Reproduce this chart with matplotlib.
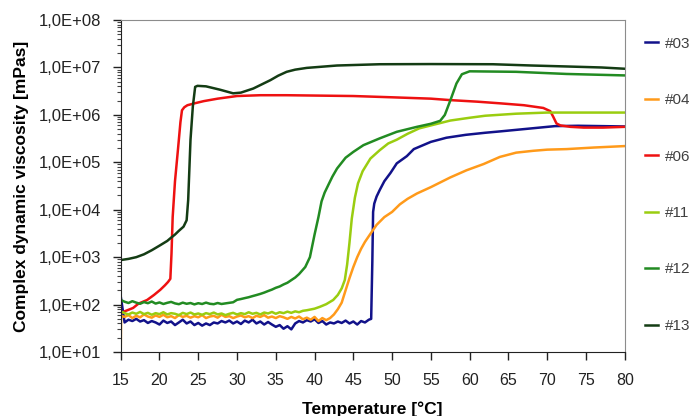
import numpy as np
import matplotlib
matplotlib.use("Agg")
import matplotlib.pyplot as plt
from matplotlib.ticker import LogLocator, FuncFormatter, FixedLocator

plt.rcParams['font.family'] = ['Liberation Sans', 'DejaVu Sans']

# sample #03 (navy)
t03 = [15.0, 15.5, 16.0, 16.5, 17.0, 17.5, 18.0, 18.5, 19.0, 19.5,
       20.0, 20.5, 21.0, 21.5, 22.0, 22.5, 23.0, 23.5, 24.0, 24.5,
       25.0, 25.5, 26.0, 26.5, 27.0, 27.5, 28.0, 28.5, 29.0, 29.5,
       30.0, 30.5, 31.0, 31.5, 32.0, 32.5, 33.0, 33.5, 34.0, 34.5,
       35.0, 35.5, 36.0, 36.5, 37.0, 37.5, 38.0, 38.5, 39.0, 39.5,
       40.0, 40.5, 41.0, 41.5, 42.0, 42.5, 43.0, 43.5, 44.0, 44.5,
       45.0, 45.5, 46.0, 46.5, 47.0,
       47.3, 47.45, 47.55, 47.7, 48.0, 48.4, 49.0, 49.8, 50.6, 51.9, 52.8,
       55.0, 57.0, 59.5, 62.0, 64.0, 68.0, 71.0, 74.0, 77.0, 80.0]
v03 = [150, 42, 48, 45, 50, 44, 47, 41, 45, 42,
       38, 46, 41, 44, 37, 42, 48, 40, 44, 37,
       41, 36, 40, 37, 42, 40, 45, 42, 46, 40,
       44, 39, 46, 42, 48, 40, 44, 38, 43, 38,
       34, 37, 31, 35, 30, 40, 45, 42, 47, 44,
       49, 41, 45, 38, 42, 40, 44, 41, 46, 40,
       44, 38, 45, 42, 48,
       50, 800, 9.0e3, 1.35e4, 1.9e4, 2.6e4, 4.0e4, 6.0e4, 9.5e4, 1.35e5, 1.9e5,
       2.7e5, 3.3e5, 3.8e5, 4.2e5, 4.5e5, 5.2e5, 5.8e5, 5.9e5, 5.8e5, 5.7e5]

# sample #04 (orange)
t04 = [15.0, 15.05, 15.5, 16.0, 16.5, 17.0, 17.5, 18.0, 18.5, 19.0, 19.5,
       20.0, 20.5, 21.0, 21.5, 22.0, 22.5, 23.0, 23.5, 24.0, 24.5,
       25.0, 25.5, 26.0, 26.5, 27.0, 27.5, 28.0, 28.5, 29.0, 29.5,
       30.0, 30.5, 31.0, 31.5, 32.0, 32.5, 33.0, 33.5, 34.0, 34.5,
       35.0, 35.5, 36.0, 36.5, 37.0, 37.5, 38.0, 38.5, 39.0, 39.5,
       40.0, 40.5, 41.0, 41.5,
       42.0, 42.5, 43.0, 43.5, 44.0, 44.5, 45.0, 45.5, 46.0, 46.5, 47.2,
       48.0, 49.0, 50.0, 51.0, 52.0, 53.2, 55.0, 57.5, 59.6, 61.8, 63.9,
       66.0, 68.2, 70.0, 72.5, 76.0, 80.0]
v04 = [10, 58, 55, 60, 52, 58, 54, 62, 56, 53, 59,
       55, 61, 54, 57, 52, 60, 55, 58, 53, 57,
       54, 60, 52, 56, 58, 53, 61, 55, 57, 52,
       56, 59, 54, 57, 52, 58, 55, 60, 53, 56,
       52, 57, 54, 50, 55, 51, 56, 49, 53, 48,
       55, 45, 52, 47,
       52, 62, 80, 110, 200, 360, 620, 1000, 1500, 2100, 3100,
       4800, 7000, 9000, 1.3e4, 1.7e4, 2.2e4, 3.0e4, 4.8e4, 6.8e4, 9.2e4, 1.3e5,
       1.6e5, 1.75e5, 1.85e5, 1.9e5, 2.05e5, 2.2e5]

# sample #06 (red)
t06 = [15.0, 15.5, 16.6, 17.3, 18.4, 19.3, 20.1, 20.7, 21.1, 21.4,
       21.55, 21.7, 22.0, 22.4, 22.7, 22.9, 23.2, 23.6, 24.5, 25.7, 27.5,
       30.0, 33.0, 36.4, 45.0, 50.0, 55.0, 57.5, 61.0, 64.0, 67.0, 69.5,
       70.4, 70.8, 71.2, 71.7, 73.0, 74.7, 77.2, 80.0]
v06 = [65, 72, 85, 105, 125, 160, 205, 255, 300, 350,
       1200, 7000, 4.0e4, 2.0e5, 7.0e5, 1.25e6, 1.45e6, 1.6e6, 1.75e6, 1.95e6, 2.2e6,
       2.5e6, 2.6e6, 2.6e6, 2.5e6, 2.35e6, 2.2e6, 2.05e6, 1.9e6, 1.75e6, 1.6e6, 1.4e6,
       1.2e6, 9.0e5, 6.6e5, 6.0e5, 5.6e5, 5.4e5, 5.4e5, 5.6e5]

# sample #11 (yellow-green)
t11 = [15.0, 15.5, 16.0, 16.5, 17.0, 17.5, 18.0, 18.5, 19.0, 19.5,
       20.0, 20.5, 21.0, 21.5, 22.0, 22.5, 23.0, 23.5, 24.0, 24.5,
       25.0, 25.5, 26.0, 26.5, 27.0, 27.5, 28.0, 28.5, 29.0, 29.5,
       30.0, 30.5, 31.0, 31.5, 32.0, 32.5, 33.0, 33.5, 34.0, 34.5,
       35.0, 35.5, 36.0, 36.5, 37.0, 37.5, 38.0, 38.5,
       39.0, 40.0, 40.7, 41.5, 42.4, 43.0, 43.5, 43.9, 44.2, 44.5, 44.8,
       45.2, 45.6, 46.2, 47.2, 48.4, 49.5, 50.6, 52.0, 53.5, 55.0, 57.5,
       60.0, 62.0, 66.0, 70.0, 75.0, 80.0]
v11 = [72, 66, 62, 68, 64, 70, 63, 67, 61, 66,
       63, 69, 62, 66, 64, 60, 67, 63, 68, 62,
       65, 61, 66, 63, 68, 62, 65, 60, 64, 67,
       62, 66, 63, 69, 64, 67, 62, 68, 65, 70,
       64, 69, 66, 71, 67, 72, 69, 74,
       76, 82, 90, 102, 125, 160, 220, 330, 700, 2000, 6500,
       1.8e4, 3.6e4, 6.5e4, 1.2e5, 1.8e5, 2.5e5, 3.0e5, 4.0e5, 5.2e5, 6.0e5, 7.6e5,
       8.7e5, 9.6e5, 1.06e6, 1.12e6, 1.12e6, 1.12e6]

# sample #12 (green)
t12 = [15.0, 15.5, 16.0, 16.5, 17.0, 17.5, 18.0, 18.5, 19.0, 19.5,
       20.0, 20.5, 21.0, 21.5, 22.0, 22.5, 23.0, 23.5, 24.0, 24.5,
       25.0, 25.5, 26.0, 26.5, 27.0, 27.5, 28.0, 28.5, 29.0, 29.5,
       30.0, 30.5, 31.0, 31.5, 32.0, 32.5, 33.0, 33.5, 34.0, 34.5,
       35.0, 35.5, 36.0, 36.5, 37.0, 37.5, 38.0, 38.8, 39.4, 40.0,
       40.5, 40.9, 41.3, 41.8, 42.3, 42.9, 44.0, 45.0, 46.3, 48.4, 50.6,
       53.2, 55.0, 56.2, 56.8, 57.5, 58.3, 59.0, 60.0, 66.0, 72.5, 80.0]
v12 = [125, 115, 108, 118, 110, 104, 113, 107, 116, 105,
       111, 103, 109, 114, 106, 102, 110, 104, 108, 101,
       107, 103, 110, 104, 102, 108, 103, 106, 109, 112,
       126, 131, 137, 143, 151, 159, 168, 179, 193, 207,
       226, 241, 266, 289, 328, 372, 440, 620, 1000, 3000,
       7000, 1.5e4, 2.3e4, 3.4e4, 5.0e4, 7.4e4, 1.25e5, 1.66e5, 2.3e5, 3.2e5, 4.4e5,
       5.6e5, 6.5e5, 7.5e5, 1.0e6, 2.0e6, 4.6e6, 7.2e6, 8.3e6, 8.1e6, 7.3e6, 6.8e6]

# sample #13 (dark green)
t13 = [15.0, 16.0, 17.0, 18.0, 19.0, 20.0, 21.0, 21.4, 22.0, 22.5, 23.1,
       23.5, 23.7, 24.0, 24.3, 24.6, 24.9, 26.0, 27.8, 29.5, 30.5, 32.1,
       34.3, 35.3, 36.4, 37.5, 39.0, 42.9, 48.4, 55.0, 63.0, 68.0, 72.5, 77.0, 80.0]
v13 = [870, 920, 1000, 1150, 1400, 1750, 2200, 2500, 3000, 3600, 4400,
       6000, 1.6e4, 3.0e5, 1.5e6, 3.9e6, 4.1e6, 4.0e6, 3.4e6, 2.85e6, 2.95e6, 3.6e6,
       5.4e6, 6.7e6, 8.1e6, 9.0e6, 9.8e6, 1.1e7, 1.17e7, 1.18e7, 1.17e7, 1.1e7, 1.05e7, 1.0e7, 9.4e6]

labels = ['#03', '#04', '#06', '#11', '#12', '#13']
colors = ['#12128a', '#ff9a1a', '#ee1111', '#9acd10', '#228b22', '#143c14']
series = [(t03, v03), (t04, v04), (t06, v06), (t11, v11), (t12, v12), (t13, v13)]

x_ticks = [15, 20, 25, 30, 35, 40, 45, 50, 55, 60, 65, 70, 75, 80]
y_ticks = [1e1, 1e2, 1e3, 1e4, 1e5, 1e6, 1e7, 1e8]

fig = plt.figure(figsize=(6.97, 4.16), dpi=100)
ax = fig.add_axes([0.1732, 0.1538, 0.7231, 0.798])

for (t, v), c, lab in zip(series, colors, labels):
    ax.plot(t, v, color=c, lw=1.8, label=lab, solid_joinstyle='round')

ax.set_yscale('log')
ax.set_xlim(15, 80)
ax.set_ylim(1e1, 1e8)
ax.xaxis.set_major_locator(FixedLocator(x_ticks))
ax.yaxis.set_major_locator(FixedLocator(y_ticks))
ax.yaxis.set_minor_locator(LogLocator(base=10, subs=np.arange(2, 10)))
ax.yaxis.set_major_formatter(FuncFormatter(lambda v, p: "1,0E+%02d" % int(round(np.log10(v)))))

ax.tick_params(axis='x', which='major', direction='out', length=6, width=1,
               pad=9, labelsize=11.5, colors='#222222')
ax.tick_params(axis='y', which='major', direction='out', length=6, width=1,
               pad=8, labelsize=12, colors='#222222')
ax.tick_params(axis='y', which='minor', direction='out', length=3, width=0.8,
               colors='#444444')

for s in ['top', 'right']:
    ax.spines[s].set_color('#8c8c8c')
for s in ['left', 'bottom']:
    ax.spines[s].set_color('#222222')

ax.set_xlabel('Temperature [°C]', fontsize=12.5, fontweight='bold')
ax.xaxis.set_label_coords(0.5, -0.148)
ax.set_ylabel('Complex dynamic viscosity [mPas]', fontsize=12.5, fontweight='bold')
ax.yaxis.set_label_coords(-0.182, 0.5)

leg = fig.legend(loc='upper left', bbox_to_anchor=(0.925, 0.912),
                 bbox_transform=fig.transFigure, frameon=False, fontsize=11,
                 handlelength=0.85, handletextpad=0.5, labelspacing=2.78,
                 borderpad=0, borderaxespad=0)
for txt in leg.get_texts():
    txt.set_color('#404040')

fig.savefig('out.png', dpi=100)
